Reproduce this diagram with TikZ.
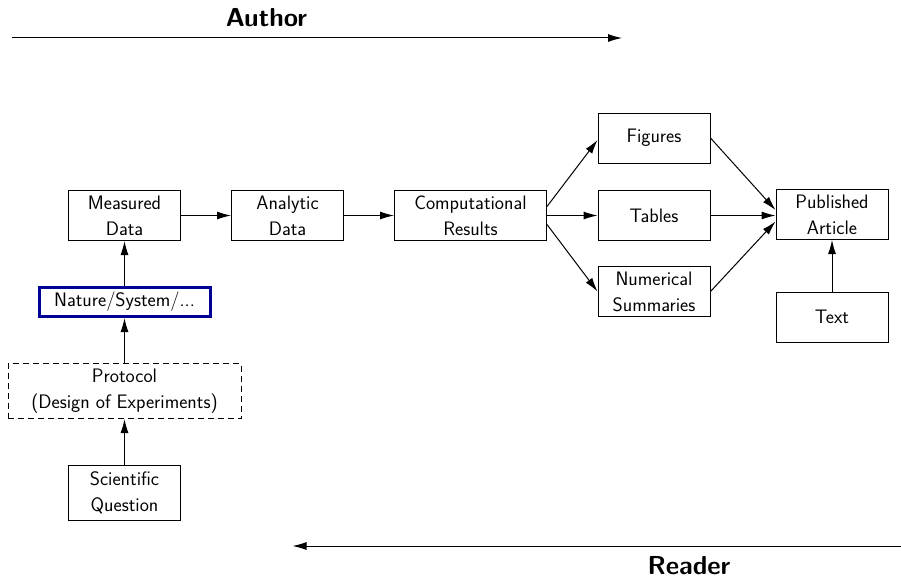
\documentclass[tikz,border=0pt]{standalone}
\usepackage{fontspec}
\usetikzlibrary{arrows.meta}
\definecolor{natblue}{RGB}{0,0,150}
\tikzset{
  box/.style={draw, line width=1pt, minimum width=112pt, minimum height=50pt, inner sep=0pt, align=center,
    font=\sffamily\fontsize{19.5}{26}\selectfont\addfontfeature{LetterSpace=3}},
  arr/.style={-{Latex[length=14pt,width=8pt]}, line width=1pt},
  head/.style={font=\sffamily\bfseries\fontsize{26}{28}\selectfont\addfontfeature{LetterSpace=3}, anchor=base, inner sep=0pt},
}
\begin{document}
\begin{tikzpicture}[x=1pt,y=-1pt]
\useasboundingbox (0,0) rectangle (901,578);
% heading arrows
\node[head] (author) at (266.5,27) {Author};
\coordinate (a1) at (12,38);
\coordinate (a2) at (622,38);
\draw[arr] (a1) -- (a2);
\node[head] (reader) at (689,574) {Reader};
\coordinate (r1) at (901,546);
\coordinate (r2) at (292.5,546);
\draw[arr] (r1) -- (r2);
% nodes
\node[box] (meas) at (124.5,215.5) {Measured\\Data};
\node[box] (ana) at (287.5,215.5) {Analytic\\Data};
\node[box, minimum width=152pt] (comp) at (470.5,215.5) {Computational\\Results};
\node[box] (fig) at (654,138) {Figures};
\node[box] (tab) at (654,215.5) {Tables};
\node[box] (num) at (654,291.5) {Numerical\\Summaries};
\node[box] (pub) at (832,214.5) {Published\\Article};
\node[box] (text) at (832,317) {Text};
\node[box, draw=natblue, line width=3pt, minimum width=171pt, minimum height=29pt] (nat) at (124.5,302) {Nature/System/...};
\node[box, dashed, dash pattern=on 6pt off 4pt, minimum width=233pt, minimum height=55pt] (prot) at (124.5,391) {Protocol\\(Design of Experiments)};
\node[box, minimum height=55pt] (sci) at (124.5,493) {Scientific\\Question};
% connectors
\draw[arr] (meas) -- (ana);
\draw[arr] (ana) -- (comp);
\draw[arr] (comp) -- (tab);
\draw[arr] ([yshift=9pt]comp.east) -- ([yshift=-2pt]fig.west);
\draw[arr] ([yshift=-9pt]comp.east) -- (num.west);
\draw[arr] (fig.east) -- ([yshift=4.5pt]pub.west);
\draw[arr] (tab.east) -- (tab.east -| pub.west);
\draw[arr] (num.east) -- ([yshift=-7pt]pub.west);
\draw[arr] (text) -- (pub);
\draw[arr] (nat) -- (meas);
\draw[arr] (prot) -- (nat);
\draw[arr] (sci) -- (prot);
\end{tikzpicture}
\end{document}
